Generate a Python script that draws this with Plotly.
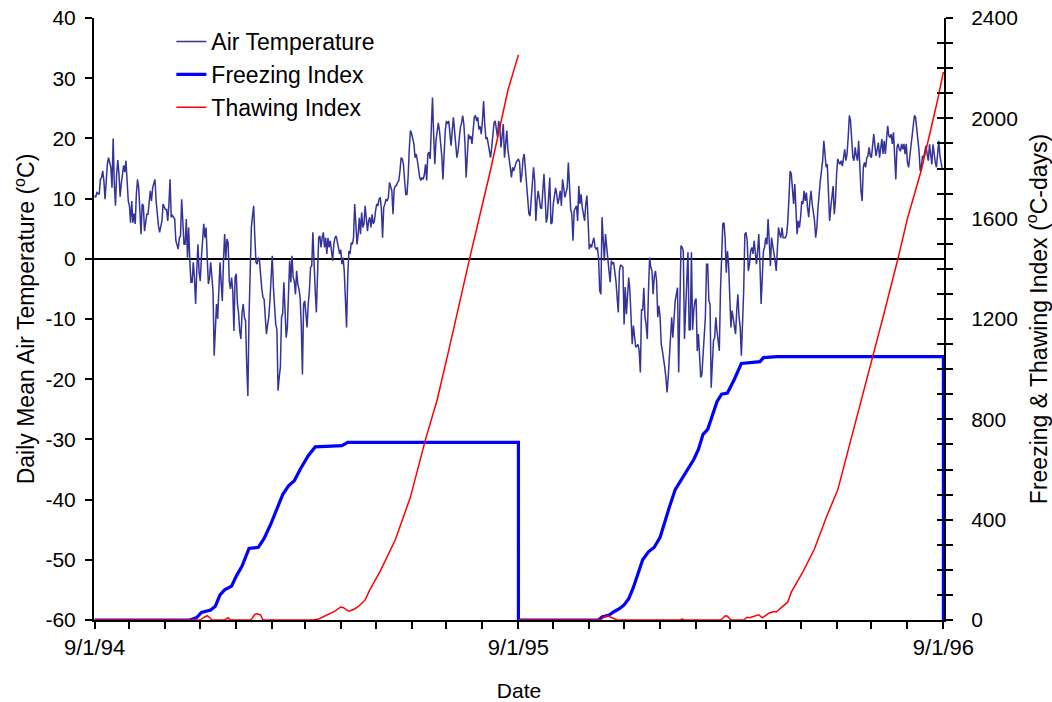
import pandas as pd
import plotly.graph_objects as go

START = pd.Timestamp("1994-09-01")
END = pd.Timestamp("1996-09-01")

# Daily mean air temperature (deg C), one value per day from 1 Sep 1994
air_temp = [
    10.5, 10.2, 11.0, 10.8, 10.7, 13.2, 13.5, 14.6, 13.0, 9.9,
    13.5, 15.7, 16.8, 15.8, 15.2, 11.8, 20.0, 12.4, 8.8, 14.1,
    16.4, 14.1, 10.3, 12.5, 14.6, 15.5, 14.4, 16.3, 13.0, 9.6,
    8.8, 6.0, 9.6, 6.0, 7.5, 5.8, 10.8, 13.2, 11.8, 7.5,
    4.1, 9.1, 8.8, 4.6, 6.0, 7.4, 7.4, 9.0, 11.3, 9.6,
    11.8, 12.5, 13.2, 9.6, 6.6, 5.5, 4.4, 5.8, 6.3, 9.1,
    8.5, 8.2, 8.2, 6.3, 9.0, 13.2, 6.9, 7.2, 6.9, 6.6,
    3.0, 2.2, 1.6, 3.5, 3.8, 9.9, 5.0, 2.4, 2.4, 6.6,
    0.2, 5.2, -0.3, -3.9, -3.9, -0.6, -3.1, -7.5, -2.0, 2.4,
    -2.2, -3.7, 0.2, 3.0, 5.8, 3.5, 5.2, 0.2, -4.2, -3.1,
    -0.6, -3.0, -5.3, -16.1, -10.3, -7.5, -10.0, -4.8, -0.6, -4.0,
    -7.0, -0.3, 4.1, 0.0, 3.3, 2.7, -3.7, -5.0, -3.1, -5.3,
    -12.0, -3.1, -2.5, -7.5, -9.0, -12.0, -13.3, -9.0, -7.5, -9.7,
    -10.3, -17.5, -22.8, -9.7, -2.0, 5.2, 7.1, 8.8, 3.5, -0.6,
    -0.9, 0.2, -0.3, -3.1, -5.0, -6.4, -6.7, -9.7, -12.5, -11.0,
    -9.7, -7.0, -3.1, 0.5, -4.7, -8.0, -10.9, -11.7, -21.9, -19.7,
    -18.0, -9.7, -9.1, -3.9, -10.3, -13.1, -11.4, -6.4, -0.3, -3.9,
    0.5, -3.1, -3.7, -5.9, -2.0, -4.2, -5.0, -6.4, -10.9, -19.2,
    -7.5, -7.0, -9.0, -11.4, -7.5, -5.3, -1.4, -1.2, 4.4, -1.4,
    -5.3, -8.9, -0.9, 3.5, 3.8, 1.9, 3.5, 4.4, 1.9, 3.5,
    0.8, 3.5, 1.9, 3.0, 1.3, -0.3, 2.4, 3.5, 3.8, 3.0,
    1.9, 0.8, 1.5, -0.9, 0.2, -2.0, -6.4, -11.4, -3.1, 1.3,
    0.8, 2.7, 2.4, 3.5, 9.1, 4.6, 2.4, 4.1, 6.8, 4.1,
    7.7, 5.2, 5.8, 8.8, 6.3, 4.6, 6.3, 6.9, 5.2, 7.4,
    5.8, 6.3, 8.0, 9.1, 8.8, 9.9, 10.2, 8.3, 3.5, 8.5,
    9.1, 9.9, 9.6, 10.2, 12.7, 11.8, 11.3, 7.4, 11.6, 12.1,
    12.2, 12.7, 13.0, 14.6, 16.8, 16.6, 15.7, 13.0, 10.7, 10.7,
    13.5, 18.2, 21.3, 20.8, 20.0, 19.1, 16.8, 17.4, 16.3, 14.5,
    13.5, 13.0, 13.5, 13.2, 14.0, 15.7, 13.0, 17.4, 17.7, 16.6,
    21.0, 26.8, 20.7, 15.7, 19.6, 21.3, 22.6, 21.3, 19.1, 17.1,
    13.2, 18.5, 21.3, 22.9, 22.4, 22.9, 20.2, 18.8, 21.3, 23.5,
    21.3, 19.1, 16.8, 17.9, 20.2, 21.8, 22.5, 23.8, 22.4, 19.1,
    13.5, 16.8, 20.7, 19.9, 20.4, 19.1, 21.0, 23.5, 23.8, 22.9,
    23.5, 21.5, 22.0, 20.7, 22.9, 26.2, 22.4, 19.9, 20.2, 19.1,
    17.9, 16.8, 18.5, 21.3, 22.6, 22.9, 21.8, 20.2, 22.9, 21.8,
    18.5, 20.5, 22.4, 16.8, 19.1, 21.3, 18.0, 16.8, 15.2, 13.5,
    15.2, 14.6, 15.5, 16.0, 16.3, 16.6, 16.0, 12.7, 14.0, 16.6,
    17.4, 14.6, 12.4, 9.6, 7.5, 7.1, 10.0, 14.0, 15.2, 13.0,
    6.3, 9.6, 11.3, 10.0, 8.5, 8.3, 12.4, 14.1, 10.2, 6.0,
    7.1, 10.0, 13.5, 5.8, 6.0, 9.1, 10.2, 11.8, 10.7, 9.1,
    10.0, 11.3, 8.8, 13.2, 11.8, 10.2, 11.0, 11.8, 16.0, 12.4,
    8.3, 7.4, 3.0, 8.0, 8.4, 8.8, 6.3, 12.1, 9.1, 10.7,
    8.5, 7.0, 6.3, 9.1, 10.5, 6.3, 1.6, 2.4, 1.9, 2.8,
    3.5, 1.9, 1.6, 1.9, 0.2, -5.3, -5.9, 6.9, 3.0, -0.3,
    4.1, 1.3, 0.0, -2.0, -3.9, -0.3, -0.9, -0.6, -2.0, -3.7,
    -6.4, -8.9, -2.0, -1.0, -1.2, -1.4, -10.9, -4.7, -9.2, -5.0,
    -3.1, -5.3, -9.7, -14.2, -11.1, -13.1, -14.7, -14.5, -14.2, -15.3,
    -18.9, -8.4, -8.6, -4.8, -9.7, -11.0, -13.3, -5.3, 0.2, -1.4,
    -2.0, -5.9, -3.0, -2.0, -3.7, -9.7, -7.8, -9.7, -14.2, -15.3,
    -16.4, -18.0, -19.7, -22.2, -19.7, -16.4, -13.1, -9.7, -13.1, -8.6,
    -7.0, -5.9, -4.8, -18.9, -7.5, 2.2, 1.9, 1.3, -13.3, -7.5,
    -4.7, 1.1, -11.8, -11.8, 1.1, -11.8, -8.6, -7.0, -6.6, -15.3,
    -12.5, -16.4, -19.7, -19.2, -15.3, -12.0, -9.7, -0.9, -0.9, -7.0,
    -7.5, -21.4, -16.4, -13.6, -13.1, -9.7, -12.0, -14.2, -15.3, -5.3,
    1.3, 5.8, 6.0, 3.5, -2.3, 1.3, -0.9, -5.3, -11.4, -8.6,
    -9.7, -10.9, -12.5, -8.6, -5.9, -9.7, -11.4, -16.1, -10.9, -5.3,
    4.1, 4.4, 3.0, -2.0, -0.9, 1.3, 1.9, 0.8, 3.0, 0.8,
    -0.9, 1.3, 4.1, -0.9, -7.5, -3.1, 1.3, 1.9, 3.5, 2.4,
    6.6, 3.0, -1.2, 3.5, 2.4, 1.3, -0.3, -2.0, 1.9, 5.2,
    4.1, 3.5, 5.2, 3.5, 3.5, 3.5, 4.1, 6.3, 10.2, 14.6,
    14.1, 11.3, 9.1, 12.4, 6.9, 4.1, 6.3, 5.2, 6.9, 9.6,
    9.1, 11.3, 9.6, 11.0, 8.5, 6.9, 9.6, 11.3, 9.1, 8.0,
    6.3, 3.5, 5.2, 8.5, 11.8, 13.0, 14.6, 16.3, 19.6, 16.8,
    15.2, 15.7, 9.6, 6.3, 8.5, 10.7, 12.1, 7.4, 9.6, 14.1,
    16.6, 16.0, 15.7, 16.3, 15.4, 16.8, 18.2, 16.3, 17.4, 20.2,
    23.8, 22.9, 19.6, 16.8, 16.3, 18.5, 17.1, 16.3, 19.6, 14.1,
    11.3, 9.6, 15.2, 16.0, 15.2, 16.8, 17.1, 18.5, 17.1, 16.8,
    19.0, 20.7, 18.8, 17.1, 18.2, 19.3, 16.8, 18.2, 19.9, 17.4,
    19.6, 17.4, 19.9, 22.1, 20.4, 20.2, 20.7, 19.1, 21.0, 18.0,
    13.2, 18.5, 19.1, 18.2, 17.9, 19.1, 18.2, 19.1, 17.4, 19.1,
    16.0, 15.2, 16.8, 18.5, 20.4, 22.4, 23.8, 23.5, 21.5, 20.2,
    17.9, 14.6, 15.4, 17.1, 16.8, 17.9, 18.8, 17.4, 16.3, 19.0,
    16.8, 15.7, 19.0, 17.1, 16.0, 15.2, 18.2, 19.6, 17.1, 16.0,
    14.9,
]

# Freezing index (deg C-days): days since 1 Sep 1994 and value
freeze_day = [0, 82, 88, 92, 100, 104, 108, 112, 118, 122, 127, 131, 133, 141,
              146, 152, 157, 162, 167, 172, 177, 184, 190, 213, 218, 365, 365,
              434, 437, 443, 448, 452, 456, 460, 464, 468, 472, 477, 482, 487,
              491, 495, 500, 504, 508, 512, 516, 520, 524, 528, 532, 536, 540,
              545, 551, 557, 573, 576, 588, 731, 731]
freeze_val = [0, 0, 10, 30, 40, 55, 100, 120, 135, 175, 215, 260, 285, 290,
              325, 385, 445, 500, 535, 555, 600, 655, 690, 695, 708, 708, 0,
              0, 12, 20, 35, 45, 60, 85, 130, 185, 240, 272, 290, 330,
              385, 450, 520, 550, 575, 605, 640, 680, 740, 760, 820, 870, 900,
              905, 960, 1023, 1030, 1046, 1050, 1050, 0]

# Thawing index (deg C-days), 1994-95 season
thaw1_day = [0, 91, 94, 97, 99, 101, 112, 114, 115, 117, 134, 136, 138, 140,
             143, 145, 188, 193, 198, 203, 207, 212, 214, 217, 219, 223, 226,
             229, 233, 237, 246, 259, 272, 285, 295, 306, 323, 341, 356, 365]
thaw1_val = [0, 0, 10, 17, 10, 0, 0, 6, 9, 0, 0, 8, 22, 25,
             20, 0, 0, 4, 15, 25, 35, 52, 50, 40, 35, 42, 50,
             62, 80, 120, 195, 320, 490, 720, 877, 1095, 1442, 1794, 2113, 2253]

# Thawing index (deg C-days), 1995-96 season
thaw2_day = [365, 436, 438, 440, 442, 444, 447, 450, 504, 506, 508, 539, 541,
             543, 545, 548, 559, 562, 564, 569, 572, 575, 581, 585, 587, 597,
             600, 610, 620, 630, 640, 650, 660, 670, 680, 692, 700, 712, 720,
             726, 731]
thaw2_val = [0, 0, 10, 15, 18, 12, 7, 0, 0, 4, 0, 0, 7,
             17, 15, 0, 0, 11, 9, 16, 21, 9, 28, 34, 32, 72,
             111, 192, 284, 408, 519, 695, 870, 1045, 1225, 1443, 1600, 1794, 1950,
             2073, 2185]

temp_ticks = list(range(-60, 41, 10))
temp_labels = [str(v) for v in temp_ticks]
index_ticks = list(range(0, 2401, 400))
date_ticks = ["1994-09-01", "1995-09-01", "1996-09-01"]
date_labels = ["9/1/94", "9/1/95", "9/1/96"]


def day_to_date(days):
    return [START + pd.Timedelta(days=d) for d in days]


dates = pd.date_range(START, periods=len(air_temp), freq="D")

# the two thawing seasons are separate curves (no drop line between them)
thaw_x = day_to_date(thaw1_day) + [None] + day_to_date(thaw2_day)
thaw_y = thaw1_val + [None] + thaw2_val

FONT = "Liberation Sans, Arial, sans-serif"

fig = go.Figure()
fig.add_trace(go.Scatter(
    x=dates, y=air_temp, name="Air Temperature", mode="lines",
    line=dict(color="#333399", width=1.5), yaxis="y",
))
fig.add_trace(go.Scatter(
    x=day_to_date(freeze_day), y=freeze_val, name="Freezing Index", mode="lines",
    line=dict(color="#0000FF", width=3.2), yaxis="y2",
))
fig.add_trace(go.Scatter(
    x=thaw_x, y=thaw_y, name="Thawing Index", mode="lines",
    line=dict(color="#FF0000", width=1.5), yaxis="y2", connectgaps=False,
))
# carrier for the inward tick marks on the right axis
fig.add_trace(go.Scatter(x=[START], y=[None], yaxis="y3", showlegend=False,
                         hoverinfo="skip", mode="lines"))

x_range = [START - pd.Timedelta(hours=12), END + pd.Timedelta(hours=12)]

TITLE_FONT = dict(family=FONT, size=23, color="black")

fig.update_layout(
    width=1052, height=702,
    margin=dict(l=94, r=108, t=18, b=82),
    paper_bgcolor="white", plot_bgcolor="white",
    font=dict(family=FONT, size=21, color="black"),
    showlegend=True,
    legend=dict(x=0.091, y=0.9967, xanchor="left", yanchor="top",
                bgcolor="rgba(0,0,0,0)", borderwidth=0,
                font=dict(size=23), tracegroupgap=0),
    xaxis=dict(
        type="date", range=x_range, automargin=False,
        tickvals=date_ticks, ticktext=date_labels, tickfont=dict(size=22),
        ticks="outside", ticklen=7, tickwidth=1.5, tickcolor="black",
        minor=dict(ticks="outside", ticklen=7, tickwidth=1.5, tickcolor="black",
                   dtick="M1", tick0="1994-09-01", showgrid=False),
        showline=True, linecolor="black", linewidth=1.5,
        showgrid=False, zeroline=False,
        title=dict(text="Date", standoff=24,
                   font=dict(family=FONT, size=21, color="black")),
        ticklabelstandoff=0,
    ),
    yaxis=dict(
        range=[-60, 40], tickvals=temp_ticks, ticktext=temp_labels,
        automargin=False,
        ticks="outside", ticklen=7, tickwidth=1.5, tickcolor="black",
        showline=True, linecolor="black", linewidth=2,
        showgrid=False, zeroline=True, zerolinecolor="black", zerolinewidth=1.5,
        title=dict(text="Daily Mean Air Temperature (<sup>o</sup>C)", standoff=4,
                   font=TITLE_FONT),
        ticklabelstandoff=5,
    ),
    yaxis2=dict(
        range=[0, 2400], tickvals=index_ticks, overlaying="y", side="right",
        automargin=False,
        ticks="outside", ticklen=7, tickwidth=1.5, tickcolor="black",
        minor=dict(ticks="outside", ticklen=7, tickwidth=1.5, tickcolor="black",
                   dtick=100, showgrid=False),
        showline=True, linecolor="black", linewidth=2,
        showgrid=False, zeroline=False,
        title=dict(text="Freezing & Thawing Index (<sup>o</sup>C-days)", standoff=14,
                   font=TITLE_FONT),
        ticklabelstandoff=14,
    ),
    yaxis3=dict(
        range=[0, 2400], overlaying="y", side="right", dtick=100, automargin=False,
        ticks="inside", ticklen=7, tickwidth=1.5, tickcolor="black",
        showticklabels=False, showline=False, showgrid=False, zeroline=False,
    ),
)

fig.write_html("out.html")
